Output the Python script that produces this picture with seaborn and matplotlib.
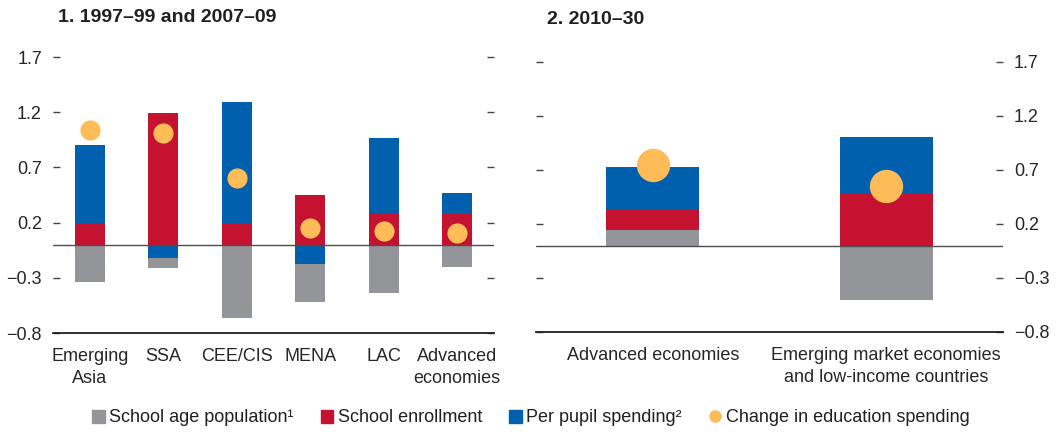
import numpy as np
import pandas as pd
import matplotlib
matplotlib.use("Agg")
import matplotlib.pyplot as plt
import seaborn as sns
from matplotlib.patches import Patch
from matplotlib.lines import Line2D

# panel 1: 1997-99 and 2007-09
regions = ["Emerging\nAsia", "SSA", "CEE/CIS", "MENA", "LAC", "Advanced\neconomies"]
pop_1 = [-0.34, -0.09, -0.66, -0.34, -0.435, -0.20]
enroll_1 = [0.19, 1.19, 0.196, 0.45, 0.28, 0.277]
pupil_1 = [0.71, -0.124, 1.10, -0.176, 0.69, 0.19]
change_1 = [1.035, 1.01, 0.60, 0.15, 0.12, 0.105]

# panel 2: 2010-30
groups = ["Advanced economies", "Emerging market economies\nand low-income countries"]
pop_2 = [0.148, -0.50]
enroll_2 = [0.188, 0.48]
pupil_2 = [0.394, 0.53]
change_2 = [0.75, 0.555]

yticks = [-0.8, -0.3, 0.2, 0.7, 1.2, 1.7]
ytick_labels = ["\u22120.8", "\u22120.3", "0.2", "0.7", "1.2", "1.7"]

GRAY, RED, BLUE, ORANGE = "#939598", "#C41230", "#0060AE", "#FDBC57"

sns.set_style("white")
plt.rcParams["font.family"] = ["Liberation Sans", "DejaVu Sans"]
plt.rcParams["font.size"] = 13
plt.rcParams["text.color"] = "#231F20"


def stacked(ax, cats, pop, enroll, pupil, change, width, dot):
    pop, enroll, pupil = map(np.asarray, (pop, enroll, pupil))
    pos = lambda v: np.clip(v, 0, None)
    neg = lambda v: np.clip(v, None, 0)
    # positive side: gray, red, blue going up
    p1 = pos(pop)
    p2 = p1 + pos(enroll)
    p3 = p2 + pos(pupil)
    # negative side: red, blue, gray going down
    n1 = neg(enroll)
    n2 = n1 + neg(pupil)
    n3 = n2 + neg(pop)
    layers = [(p3, BLUE), (p2, RED), (p1, GRAY), (n3, GRAY), (n2, BLUE), (n1, RED)]
    for vals, col in layers:
        df = pd.DataFrame({"cat": cats, "val": vals})
        sns.barplot(data=df, x="cat", y="val", color=col, width=width,
                    linewidth=0, saturation=1, ax=ax, zorder=2)
    ax.axhline(0, color="#4d4d4d", lw=1.0, zorder=3)
    sns.stripplot(x=cats, y=change, jitter=False, color=ORANGE, size=dot,
                  linewidth=0, ax=ax, zorder=4)
    ax.set_ylim(-0.8, 1.7)
    ax.set_xlim(-0.5, len(cats) - 0.5)
    ax.set_yticks(yticks)
    ax.set_xlabel("")
    ax.set_ylabel("")
    for s in ["left", "right", "top"]:
        ax.spines[s].set_visible(False)
    ax.spines["bottom"].set_color("#231F20")
    ax.spines["bottom"].set_linewidth(1.3)
    ax.tick_params(axis="x", length=0, pad=11)
    for lbl in ax.get_xticklabels():
        lbl.set_linespacing(1.35)
    ax.tick_params(axis="y", direction="in", length=5, width=1, color="#444444",
                   pad=8, left=True, right=True)


fig = plt.figure(figsize=(10.56, 4.32), dpi=100)
ax1 = fig.add_axes([53 / 1056, 1 - 333 / 432, 441 / 1056, 276 / 432])
ax2 = fig.add_axes([536 / 1056, 1 - 332 / 432, 467 / 1056, 270 / 432])

stacked(ax1, regions, pop_1, enroll_1, pupil_1, change_1, 0.41, 14.5)
stacked(ax2, groups, pop_2, enroll_2, pupil_2, change_2, 0.40, 24)

ax1.set_yticklabels(ytick_labels)
ax1.tick_params(axis="y", labelleft=True, labelright=False)
ax2.set_yticklabels(ytick_labels)
ax2.tick_params(axis="y", labelleft=False, labelright=True)

fig.text(58 / 1056, 1 - 18 / 432, "1. 1997\u201399 and 2007\u201309",
         fontweight="bold", fontsize=14, va="center", ha="left")
fig.text(547 / 1056, 1 - 20 / 432, "2. 2010\u201330",
         fontweight="bold", fontsize=14, va="center", ha="left")

handles = [
    Patch(color=GRAY, label="School age population\u00b9"),
    Patch(color=RED, label="School enrollment"),
    Patch(color=BLUE, label="Per pupil spending\u00b2"),
    Line2D([], [], marker="o", ls="", color=ORANGE, markersize=8,
           label="Change in education spending"),
]
fig.legend(handles=handles, loc="center", ncol=4, frameon=False,
           bbox_to_anchor=(531 / 1056, 1 - 418 / 432), handlelength=0.7,
           handleheight=0.7, handletextpad=0.25, columnspacing=1.5)

fig.savefig("out.png", dpi=100)
